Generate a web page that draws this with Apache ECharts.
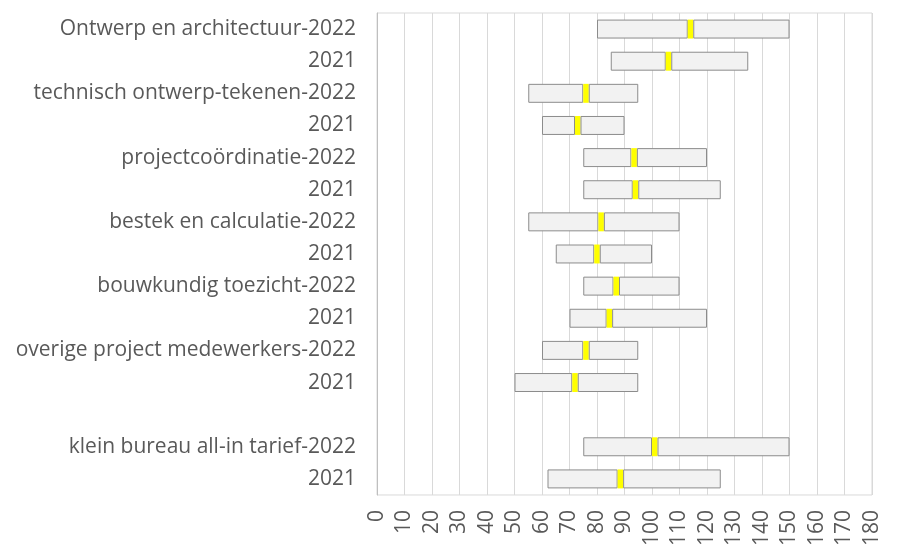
<!DOCTYPE html>
<html>
<head>
    <meta charset="utf-8">
    <script src="https://cdn.jsdelivr.net/npm/echarts@6/dist/echarts.min.js"></script>
    <style>
        html, body { margin: 0; padding: 0; background: #fff; }
    </style>
</head>
<body>
<div id="main" style="width: 923px;height:549px;"></div>
<script type="text/javascript">
    // rijen van boven naar beneden, lege rij als scheiding
    var categories = [
        'Ontwerp en architectuur-2022', '2021',
        'technisch ontwerp-tekenen-2022', '2021',
        'projectcoördinatie-2022', '2021',
        'bestek en calculatie-2022', '2021',
        'bouwkundig toezicht-2022', '2021',
        'overige project medewerkers-2022', '2021',
        '',
        'klein bureau all-in tarief-2022', '2021'
    ];
    var minValues    = [80, 85, 55, 60, 75, 75, 55, 65, 75, 70, 60, 50, null, 75, 62];
    var medianValues = [114, 106, 76, 73, 93.5, 94, 81.5, 80, 87, 84.5, 76, 72, null, 101, 88.5];
    var maxValues    = [150, 135, 95, 90, 120, 125, 110, 100, 110, 120, 95, 95, null, 150, 125];
    var markerWidth = 2;

    var base = [], lower = [], marker = [], upper = [];
    for (var i = 0; i < categories.length; i++) {
        if (minValues[i] == null) {
            base.push(null); lower.push(null); marker.push(null); upper.push(null);
            continue;
        }
        var m0 = medianValues[i] - markerWidth / 2;
        base.push(minValues[i]);
        lower.push(m0 - minValues[i]);
        marker.push(markerWidth);
        upper.push(maxValues[i] - (m0 + markerWidth));
    }

    var greyStyle = { color: '#f2f2f2', borderColor: '#8c8c8c', borderWidth: 1 };

    var myChart = echarts.init(document.getElementById('main'));
    var option = {
        animation: false,
        textStyle: { fontFamily: 'Open Sans' },
        grid: {
            left: 377, right: 51, top: 13, bottom: 52,
            show: true, borderColor: '#d9d9d9', borderWidth: 1
        },
        xAxis: {
            type: 'value',
            min: 0, max: 180, interval: 10,
            axisLine: { show: false },
            axisTick: { show: false },
            splitLine: { lineStyle: { color: '#d9d9d9' } },
            axisLabel: { rotate: 90, color: '#595959', fontSize: 21, margin: 15, fontFamily: 'Open Sans' }
        },
        yAxis: {
            type: 'category',
            inverse: true,
            data: categories,
            axisLine: { lineStyle: { color: '#bfbfbf' } },
            axisTick: { show: false },
            axisLabel: { color: '#595959', fontSize: 21, margin: 21, fontFamily: 'Open Sans' }
        },
        series: [
            { type: 'bar', stack: 'r', data: base, barCategoryGap: '41%', itemStyle: { color: 'transparent' }, silent: true },
            { type: 'bar', stack: 'r', data: lower, itemStyle: greyStyle },
            { type: 'bar', stack: 'r', data: marker, itemStyle: { color: '#ffff00' } },
            { type: 'bar', stack: 'r', data: upper, itemStyle: greyStyle }
        ]
    };
    myChart.setOption(option);
</script>
</body>
</html>
